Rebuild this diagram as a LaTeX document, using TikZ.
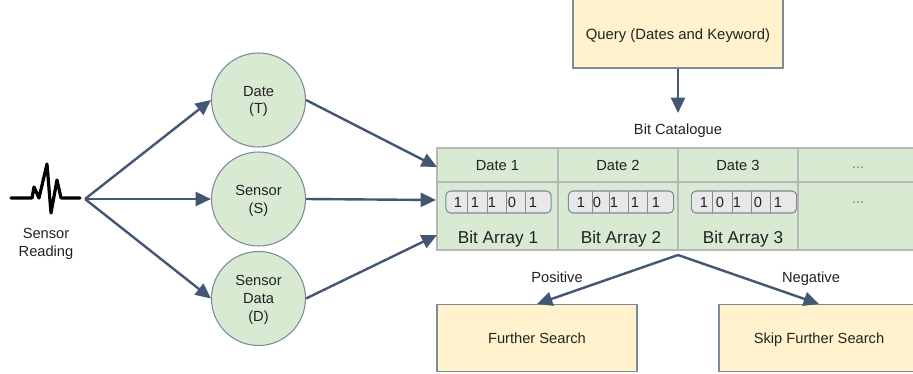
\documentclass[tikz,border=0pt]{standalone}
\usepackage{fontspec}
\setmainfont{Liberation Sans}
\usetikzlibrary{arrows.meta}
\definecolor{greenfill}{HTML}{D9EAD3}
\definecolor{yellowfill}{HTML}{FFF2CC}
\definecolor{cellline}{HTML}{B7B7B7}
\definecolor{edgeline}{HTML}{7C8A99}
\definecolor{arrowcol}{HTML}{435773}
\definecolor{bitfill}{HTML}{E8E8E8}
\definecolor{textcol}{HTML}{222222}
\tikzset{
  lab/.style={font=\fontsize{11}{13.4}\selectfont, text=textcol, align=center, inner sep=0pt, text depth=0pt},
  lowered/.style={execute at begin node={\rule{0pt}{10.2pt}}},
  biglab/.style={font=\fontsize{12.9}{15}\selectfont, text=textcol, inner sep=0pt, text depth=0pt},
  dotlab/.style={lab, text=gray},
  circ/.style={circle, draw=edgeline, line width=0.8pt, fill=greenfill, minimum size=70.5pt, inner sep=0pt, lab, lowered},
  actionbox/.style={rectangle, draw=edgeline, line width=0.8pt, fill=yellowfill, minimum height=50.25pt, inner sep=0pt, lab},
  cell/.style={rectangle, draw=cellline, line width=1.6pt, fill=greenfill, inner sep=0pt, lab},
  bitbox/.style={rectangle, rounded corners=3.5pt, draw=edgeline, line width=0.8pt, fill=bitfill, minimum width=79pt, minimum height=16.5pt, inner sep=0pt},
  divider/.style={draw=edgeline, line width=0.6pt},
  arrowline/.style={draw=arrowcol, line width=1.8pt, -{Triangle[length=11.5pt,width=10.5pt]}},
  wave/.style={draw=black, line width=2.4pt, line cap=round, line join=round}
}
\begin{document}
\begin{tikzpicture}[x=0.75pt,y=-0.75pt]
\path[use as bounding box] (0,0) rectangle (913,374);
\clip (0,0) rectangle (913,374);
% waveform
\draw[wave] (11,198) -- (32,198) -- (34,187) -- (39,198) -- (47,164) -- (51,213) -- (57,180) -- (61,198) -- (80,198);
\node[lab, lowered] (reading) at (46,242) {Sensor\\Reading};
\coordinate (hub) at (85,199);
% circles
\node[circ] (date) at (258.5,100) {Date\\(T)};
\node[circ] (sensor) at (258.5,199) {Sensor\\(S)};
\node[circ] (data) at (258.5,298.5) {Sensor\\Data\\(D)};
% table
\node[cell, minimum width=90.75pt, minimum height=25.5pt] (d1) at (497.5,165) {Date 1};
\node[cell, minimum width=90pt, minimum height=25.5pt] (d2) at (618,165) {Date 2};
\node[cell, minimum width=90pt, minimum height=25.5pt] (d3) at (738,165) {Date 3};
\node[cell, minimum width=90pt, minimum height=25.5pt] (d4) at (858,165) {};
\node[cell, minimum width=90.75pt, minimum height=51pt] (a1) at (497.5,216) {};
\node[cell, minimum width=90pt, minimum height=51pt] (a2) at (618,216) {};
\node[cell, minimum width=90pt, minimum height=51pt] (a3) at (738,216) {};
\node[cell, minimum width=90pt, minimum height=51pt] (a4) at (858,216) {};
\node[dotlab] (dots1) at (858,168) {...};
\node[dotlab] (dots2) at (858,203) {...};
% bit boxes
\node[bitbox] (b1) at (498.5,202) {};
\node[bitbox] (b2) at (621,202) {};
\node[bitbox] (b3) at (744,202) {};
\foreach \x in {467,487,506,525} \draw[divider] (\x,191) -- (\x,213);
\foreach \x in {592,609,628,647} \draw[divider] (\x,191) -- (\x,213);
\foreach \x in {712,732,751,770} \draw[divider] (\x,191) -- (\x,213);
\foreach \n/\x/\t in {p1/458/1,p2/475/1,p3/492/1,p4/512/0,p5/533/1,
                      q1/581/1,q2/597/0,q3/614/1,q4/635/1,q5/656/1,
                      r1/704/1,r2/720/0,r3/737/1,r4/758/0,r5/778/1}
  \node[lab] (\n) at (\x,202) {\t};
\node[biglab] (arr1) at (498,237) {Bit Array 1};
\node[biglab] (arr2) at (621,237) {Bit Array 2};
\node[biglab] (arr3) at (743,237) {Bit Array 3};
% boxes
\node[actionbox, minimum width=157.5pt, minimum height=60pt] (query) at (678,28) {};
\node[lab, font=\fontsize{11.15}{13.4}\selectfont] (querytext) at (678,34) {Query (Dates and Keyword)};
\node[lab] (catalogue) at (678,129) {Bit Catalogue};
\node[actionbox, minimum width=150pt] (further) at (537,338) {Further Search};
\node[actionbox, minimum width=150pt] (skip) at (819,338) {Skip Further Search};
\node[lab] (pos) at (557,277) {Positive};
\node[lab] (neg) at (811,277) {Negative};
% connector ends
\coordinate (inT) at (437,167);
\coordinate (inS) at (436,200);
\coordinate (inD) at (437,235);
\coordinate (apex) at (678,255);
\coordinate (catin) at (678,113);
\coordinate (fur) at (537,304);
\coordinate (ski) at (819,304);
% connectors
\draw[arrowline] (hub) -- (date.west);
\draw[arrowline] (hub) -- (sensor.west);
\draw[arrowline] (hub) -- (data.west);
\draw[arrowline] (date.east) -- (inT);
\draw[arrowline] (sensor.east) -- (inS);
\draw[arrowline] (data.east) -- (inD);
\draw[arrowline] (query.south) -- (catin);
\draw[arrowline] (apex) -- (fur);
\draw[arrowline] (apex) -- (ski);
\end{tikzpicture}
\end{document}
